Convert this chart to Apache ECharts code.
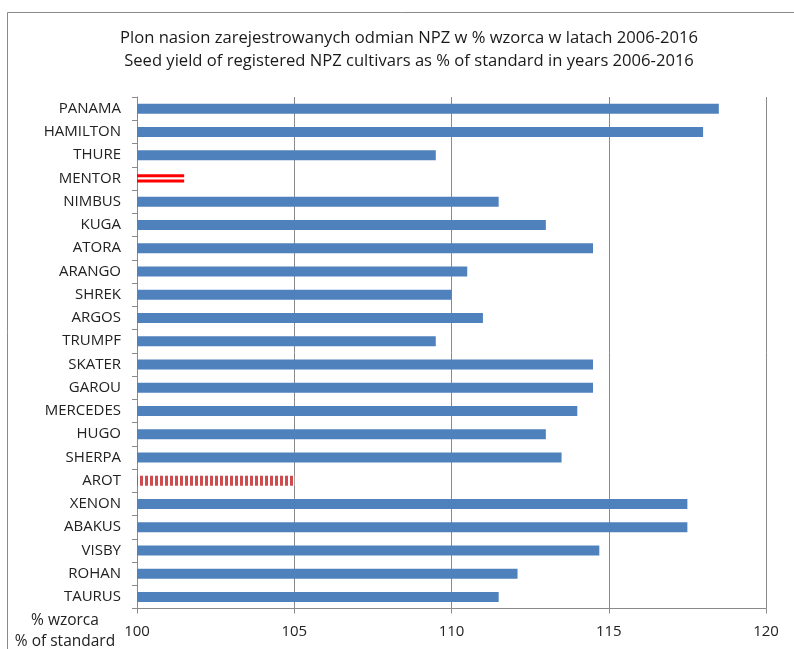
<!DOCTYPE html>
<html>
<head>
<meta charset="utf-8">
<script src="https://cdn.jsdelivr.net/npm/echarts@6/dist/echarts.min.js"></script>
<style>
  html, body { margin: 0; padding: 0; background: #fff; }
  #chart { width: 794px; height: 649px; }
</style>
</head>
<body>
<div id="chart"></div>
<script>
const titleLines = [
  'Plon nasion zarejestrowanych odmian NPZ w % wzorca w latach 2006-2016',
  'Seed yield of registered NPZ cultivars as % of standard in years 2006-2016'
];
const categories = ['PANAMA','HAMILTON','THURE','MENTOR','NIMBUS','KUGA','ATORA','ARANGO','SHREK','ARGOS','TRUMPF','SKATER','GAROU','MERCEDES','HUGO','SHERPA','AROT','XENON','ABAKUS','VISBY','ROHAN','TAURUS'];
const values = [118.5, 118.0, 109.5, 101.5, 111.5, 113.0, 114.5, 110.5, 110.0, 111.0, 109.5, 114.5, 114.5, 114.0, 113.0, 113.5, 105.0, 117.5, 117.5, 114.7, 112.1, 111.5];
const doubleLineCategory = 'MENTOR';
const stripedCategory = 'AROT';
const xTicks = [100, 105, 110, 115, 120];
const axisCaption = ['% wzorca', '% of standard'];

const FONT = '"Open Sans", "Noto Sans", sans-serif';
const GRAY = '#8a8a8a';

// vertical stripe pattern for AROT
const pc = document.createElement('canvas');
pc.width = 5; pc.height = 10;
const pctx = pc.getContext('2d');
pctx.fillStyle = '#ffffff';
pctx.fillRect(0, 0, 5, 10);
pctx.fillStyle = '#cf4b4e';
pctx.fillRect(0, 0, 3, 10);

const mainData = values.map((v, i) => {
  if (categories[i] === doubleLineCategory) return '-';
  if (categories[i] === stripedCategory) return { value: v, itemStyle: { color: { image: pc, repeat: 'repeat' } } };
  return v;
});
const doubleData = values.map((v, i) => categories[i] === doubleLineCategory ? v : '-');

const chart = echarts.init(document.getElementById('chart'), null, { renderer: 'canvas' });
chart.setOption({
  animation: false,
  backgroundColor: '#fff',
  grid: { left: 137, right: 28, top: 97, bottom: 40.5, containLabel: false },
  xAxis: {
    type: 'value', min: xTicks[0], max: xTicks[xTicks.length - 1], interval: 5,
    axisLine: { show: true, lineStyle: { color: GRAY, width: 1 } },
    axisTick: { show: true, length: 5, lineStyle: { color: GRAY } },
    splitLine: { show: true, lineStyle: { color: GRAY, width: 1 } },
    axisLabel: { margin: 16, fontSize: 15, color: '#222', fontFamily: FONT }
  },
  yAxis: [{
    type: 'category', data: categories, inverse: true,
    axisLine: { show: true, lineStyle: { color: GRAY, width: 1 } },
    axisTick: { show: true, length: 5, lineStyle: { color: GRAY } },
    axisLabel: { margin: 16, fontSize: 15, color: '#222', fontFamily: FONT, padding: [2, 0, 0, 0] }
  }, {
    type: 'category', data: categories, inverse: true, show: false
  }],
  series: [{
    type: 'bar', yAxisIndex: 0, data: mainData, barWidth: 10,
    itemStyle: { color: '#4f81bd' }
  }, {
    type: 'bar', yAxisIndex: 1, data: doubleData, barWidth: 3, barGap: '67%',
    itemStyle: { color: '#ff0000' }
  }, {
    type: 'bar', yAxisIndex: 1, data: doubleData, barWidth: 3, barGap: '67%',
    itemStyle: { color: '#ff0000' }
  }],
  graphic: [
    { type: 'rect', silent: true, shape: { x: 7.5, y: 12.5, width: 900, height: 800 }, style: { fill: 'none', stroke: GRAY, lineWidth: 1 } },
    { type: 'text', x: 409, y: 38, style: { text: titleLines[0], font: '16.6px ' + FONT, fill: '#1a1a1a', textAlign: 'center', textVerticalAlign: 'middle' } },
    { type: 'text', x: 409, y: 61, style: { text: titleLines[1], font: '16.6px ' + FONT, fill: '#1a1a1a', textAlign: 'center', textVerticalAlign: 'middle' } },
    { type: 'text', x: 65, y: 621, style: { text: axisCaption[0], font: '15.5px ' + FONT, fill: '#222', textAlign: 'center', textVerticalAlign: 'middle' } },
    { type: 'text', x: 65, y: 642, style: { text: axisCaption[1], font: '15.5px ' + FONT, fill: '#222', textAlign: 'center', textVerticalAlign: 'middle' } }
  ]
});
</script>
</body>
</html>
